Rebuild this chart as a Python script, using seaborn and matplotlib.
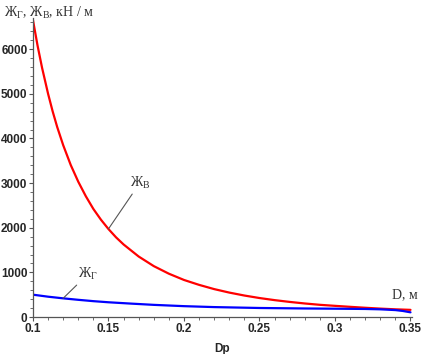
import matplotlib
matplotlib.use("Agg")
import matplotlib.pyplot as plt
from matplotlib.ticker import MultipleLocator, FuncFormatter
import seaborn as sns
import pandas as pd

sns.set_style("white")
plt.rcParams['font.family'] = ['Liberation Serif', 'DejaVu Serif']
plt.rcParams['mathtext.fontset'] = 'custom'
plt.rcParams['mathtext.rm'] = 'Liberation Serif'
plt.rcParams['mathtext.it'] = 'Liberation Serif'

# Data
d_red = [0.100, 0.103, 0.106, 0.110, 0.113, 0.116, 0.120, 0.125, 0.130, 0.135,
         0.140, 0.145, 0.150, 0.155, 0.160, 0.170, 0.180, 0.190, 0.200, 0.210,
         0.220, 0.230, 0.240, 0.250, 0.260, 0.270, 0.280, 0.290, 0.300, 0.310,
         0.320, 0.330, 0.340, 0.350]
zh_v = [6650, 6085, 5585, 5000, 4610, 4260, 3850, 3405, 3030, 2705,
        2420, 2180, 1970, 1785, 1625, 1355, 1140, 970, 830, 720,
        625, 547, 481, 425, 378, 338, 303, 273, 250, 228,
        207, 188, 172, 160]
d_blue = [0.100, 0.110, 0.120, 0.130, 0.140, 0.150, 0.165, 0.180, 0.200, 0.220,
          0.250, 0.280, 0.300, 0.320, 0.330, 0.340, 0.345, 0.350]
zh_g = [500, 455, 418, 385, 355, 330, 300, 272, 243, 222,
        202, 191, 186, 180, 172, 155, 135, 105]
x_ticks = [0.1, 0.15, 0.2, 0.25, 0.3, 0.35]
y_ticks = [0, 1000, 2000, 3000, 4000, 5000, 6000]

df_v = pd.DataFrame({"Dp": d_red, "val": zh_v})
df_g = pd.DataFrame({"Dp": d_blue, "val": zh_g})

fig = plt.figure(figsize=(4.32, 3.54), dpi=100)
ax = fig.add_axes([33/432, 1 - 317/354, (412-33)/432, (317-18)/354])

sns.lineplot(data=df_v, x="Dp", y="val", color="#ff0000", lw=1.6, ax=ax)
sns.lineplot(data=df_g, x="Dp", y="val", color="#0000ff", lw=1.6, ax=ax)

ax.set_xlim(0.1, 0.351)
ax.set_ylim(0, 6700)
ax.set_xticks(x_ticks)
ax.set_yticks(y_ticks)
ax.xaxis.set_minor_locator(MultipleLocator(0.01))
ax.yaxis.set_minor_locator(MultipleLocator(200))
ax.xaxis.set_major_formatter(FuncFormatter(lambda v, p: f"{v:g}"))
ax.yaxis.set_major_formatter(FuncFormatter(lambda v, p: f"{v:g}"))
for lab in ax.get_xticklabels() + ax.get_yticklabels():
    lab.set_fontweight("bold")
    lab.set_fontsize(8.5)
    lab.set_fontfamily(['Liberation Sans'])
ax.tick_params(which='major', direction='out', length=3, width=0.8, color='#555555', pad=1)
ax.tick_params(which='minor', direction='out', length=2, width=0.6, color='#555555')
ax.tick_params(axis='x', which='both', bottom=True)
ax.tick_params(axis='y', which='both', left=True)

for s in ['top', 'right']:
    ax.spines[s].set_visible(False)
for s in ['left', 'bottom']:
    ax.spines[s].set_color('#555555')
    ax.spines[s].set_linewidth(0.9)

ax.set_xlabel("Dp", fontweight='bold', fontsize=8.5, fontfamily=['Liberation Sans'], labelpad=6)
ax.set_ylabel("")

fig.text(4/432, 1 - 13/354, r"Ж$_{\mathrm{Г}}$, Ж$_{\mathrm{В}}$, кН / м", fontsize=10,
         color='#333333', va='center', ha='left')

ax.annotate(r"Ж$_{\mathrm{В}}$", xy=(0.150, 1975), xytext=(0.164, 2920),
            fontsize=10, color='#333333',
            arrowprops=dict(arrowstyle='-', color='#555555', lw=0.8, shrinkA=0, shrinkB=0))
ax.annotate(r"Ж$_{\mathrm{Г}}$", xy=(0.120, 420), xytext=(0.130, 880),
            fontsize=10, color='#333333',
            arrowprops=dict(arrowstyle='-', color='#555555', lw=0.8, shrinkA=0, shrinkB=0))
ax.text(0.338, 420, "D, м", fontsize=10, color='#333333')

fig.savefig("out.png", dpi=100)
